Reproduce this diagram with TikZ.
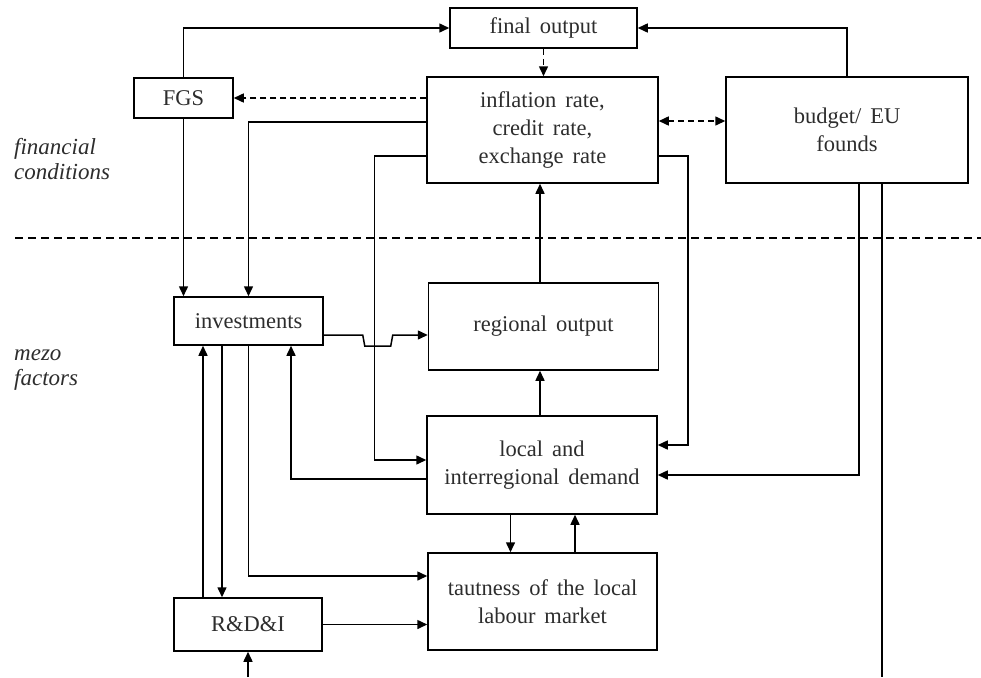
\documentclass[tikz,border=0pt]{standalone}
\usepackage{fontspec}
\setmainfont[WordSpace=1.6]{Liberation Serif}
\usetikzlibrary{arrows.meta}
\definecolor{txt}{RGB}{45,45,45}
\tikzset{
  box/.style={draw, line width=1.5pt, inner sep=0pt, align=center, text=txt,
    font=\fontsize{22.5}{28}\selectfont},
  lab/.style={anchor=west, align=left, text=txt, inner sep=0pt,
    font=\fontsize{23}{25}\selectfont\itshape},
  conn/.style={line width=1.5pt},
  arr/.style={conn, -{Triangle[length=10pt,width=9pt]}},
  darr/.style={conn, dash pattern=on 6pt off 4pt, -{Triangle[length=10pt,width=9pt]}},
  ddarr/.style={conn, dash pattern=on 6pt off 4pt, {Triangle[length=10pt,width=9pt]}-{Triangle[length=10pt,width=9pt]}},
}
\begin{document}
\begin{tikzpicture}[x=1pt,y=-1pt]
\useasboundingbox (0,0) rectangle (981,677);
% nodes
\node[box, minimum width=187pt, minimum height=40pt] (fo) at (543.5,28) {final output};
\node[box, minimum width=99pt, minimum height=40pt] (fgs) at (183.5,98) {FGS};
\node[box, minimum width=231pt, minimum height=106pt] (infl) at (542.5,130) {inflation rate,\\credit rate,\\exchange rate};
\node[box, minimum width=242pt, minimum height=106pt] (bud) at (847,130) {budget/ EU\\founds};
\node[box, minimum width=149pt, minimum height=48pt] (inv) at (248.5,321) {investments};
\node[box, minimum width=230pt, minimum height=87pt] (reg) at (543.5,326.5) {regional output};
\node[box, minimum width=230pt, minimum height=98pt] (dem) at (542,465) {local and\\interregional demand};
\node[box, minimum width=229pt, minimum height=97pt] (taut) at (542.5,601.5) {tautness of the local\\labour market};
\node[box, minimum width=148pt, minimum height=53pt] (rdi) at (248,624.5) {R\&D\&I};
\node[lab] (fc) at (14,159) {financial\\conditions};
\node[lab] (mf) at (14,370) {mezo\\factors};
% separator
\coordinate (sepL) at (15,238);
\coordinate (sepR) at (981,238);
\draw[conn, dash pattern=on 8pt off 5pt] (sepL) -- (sepR);
\coordinate (bot) at (0,677);
% connectors
\draw[arr] (fgs.north) |- (fo.west);
\draw[arr] (bud.north) |- (fo.east);
\draw[darr] (fo.south) -- (fo.south |- infl.north);
\draw[darr] (infl.west |- fgs.east) -- (fgs.east);
\draw[ddarr] ([yshift=9pt]infl.east) -- ([yshift=9pt]bud.west);
\draw[arr] ([yshift=8pt]infl.west) -| (inv.north);
\draw[arr] (fgs.south) -- (fgs.south |- inv.north);
\draw[arr] ([yshift=-26pt]infl.west) -- ++(-52,0) |- ([yshift=5pt]dem.west);
\draw[arr] ([yshift=-26pt]infl.east) -- ++(29,0) |- ([yshift=20pt]dem.east);
\draw[arr] ([xshift=12pt]bud.south) |- ([yshift=-10pt]dem.east);
\draw[conn] ([xshift=35pt]bud.south) -- ([xshift=35pt]bud.south |- bot);
\draw[arr] ([xshift=-2.5pt]infl.south |- reg.north) -- ([xshift=-2.5pt]infl.south);
\draw[arr] ([xshift=-2.5pt]infl.south |- dem.north) -- ([xshift=-2.5pt]infl.south |- reg.south);
\coordinate (j) at ([yshift=-14pt]inv.east);
\draw[arr] (j) -- ++(39,0) -- ++(2,11) -- ++(26,0) -- ++(2,-11) -- (reg.west |- j);
\draw[arr] ([yshift=-14pt]dem.west) -| ([xshift=42.5pt]inv.south);
\draw[arr] ([xshift=-45pt]rdi.north) -- ([xshift=-45pt]rdi.north |- inv.south);
\draw[arr] ([xshift=-26.5pt]inv.south) -- ([xshift=-26.5pt]inv.south |- rdi.north);
\draw[arr] (inv.south) |- ([yshift=25.5pt]taut.west);
\draw[arr] (rdi.east) -- (rdi.east -| taut.west);
\draw[arr] ([xshift=-31.5pt]dem.south) -- ([xshift=-31.5pt]dem.south |- taut.north);
\draw[arr] ([xshift=32.5pt]taut.north) -- ([xshift=32.5pt]taut.north |- dem.south);
\draw[arr] (rdi.south |- bot) -- (rdi.south);
\end{tikzpicture}
\end{document}
